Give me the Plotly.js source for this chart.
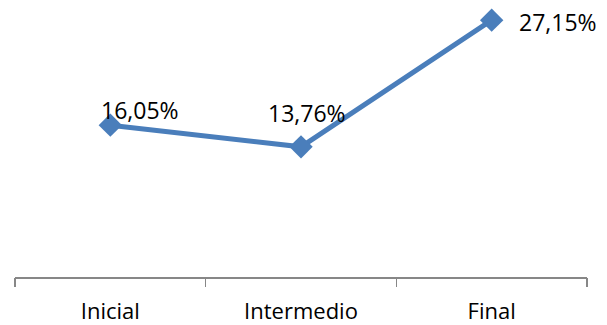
<!DOCTYPE html>
<html>
<head>
<meta charset="utf-8">
<script src="https://cdn.plot.ly/plotly-3.0.1.min.js"></script>
<style>html,body{margin:0;padding:0;background:#fff}#chart{width:607px;height:325px}</style>
</head>
<body>
<div id="chart"></div>
<script>
const categories = ["Inicial", "Intermedio", "Final"];
const values = [16.05, 13.76, 27.15];
const labels = ["16,05%", "13,76%", "27,15%"];

const labelShift = [[30, 15], [6, 34], [66, -2]];

const trace = {
  x: [0, 1, 2],
  y: values,
  type: "scatter",
  mode: "lines+markers",
  line: {color: "#4A7EBB", width: 5},
  marker: {symbol: "diamond", size: 18, color: "#4A7EBB"},
  hoverinfo: "skip"
};

const annotations = values.map((v, i) => ({
  x: i, y: v, xref: "x", yref: "y",
  text: labels[i], showarrow: false,
  xshift: labelShift[i][0], yshift: labelShift[i][1],
  font: {family: "Open Sans, sans-serif", size: 23, color: "#000"}
}));

const layout = {
  width: 607, height: 325,
  margin: {l: 15, r: 20, t: 0, b: 48},
  paper_bgcolor: "#fff", plot_bgcolor: "#fff",
  showlegend: false,
  xaxis: {
    range: [-0.5, 2.5],
    tickvals: [0, 1, 2], ticktext: categories,
    showgrid: false, zeroline: false,
    showline: true, linecolor: "#878787", linewidth: 1.5,
    ticks: "", ticklabelstandoff: 14,
    tickfont: {family: "Open Sans, sans-serif", size: 22, color: "#000"},
    fixedrange: true
  },
  xaxis2: {
    overlaying: "x", range: [-0.5, 2.5], tickvals: [-0.5, 0.5, 1.5, 2.5],
    ticks: "outside", ticklen: 9, tickcolor: "#878787", tickwidth: 1.5,
    showticklabels: false, showgrid: false, zeroline: false, showline: false,
    anchor: "y"
  },
  yaxis: {
    range: [0, 29.28], visible: false, showgrid: false, zeroline: false, fixedrange: true
  },
  annotations: annotations
};

const tickTrace = {x: [0], y: [null], xaxis: "x2", yaxis: "y", type: "scatter", mode: "markers", hoverinfo: "skip"};

Plotly.newPlot("chart", [tickTrace, trace], layout, {staticPlot: true, displayModeBar: false});
</script>
</body>
</html>
